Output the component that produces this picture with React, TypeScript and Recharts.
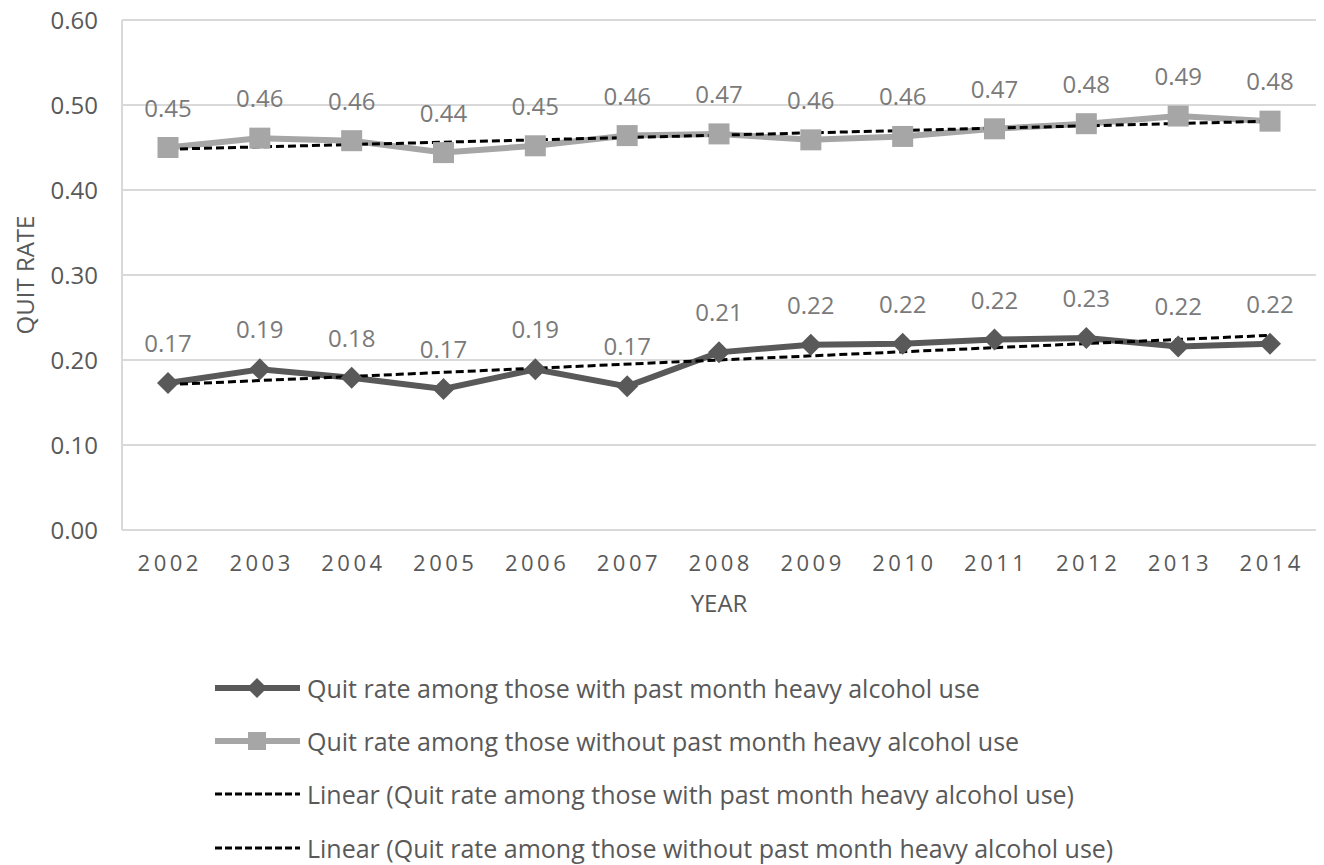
import React from 'react';
import { LineChart, Line, XAxis, YAxis, CartesianGrid, LabelList } from 'recharts';

const years = ['2002', '2003', '2004', '2005', '2006', '2007', '2008', '2009', '2010', '2011', '2012', '2013', '2014'];
const withHeavy = [0.173, 0.189, 0.179, 0.166, 0.189, 0.169, 0.209, 0.218, 0.219, 0.224, 0.226, 0.216, 0.219];
const withoutHeavy = [0.450, 0.461, 0.458, 0.444, 0.452, 0.464, 0.466, 0.459, 0.463, 0.472, 0.478, 0.487, 0.481];
const trendWith = [0.171, null, null, null, null, null, null, null, null, null, null, null, 0.229];
const trendWithout = [0.448, null, null, null, null, null, null, null, null, null, null, null, 0.481];
const yTicks = [0, 0.1, 0.2, 0.3, 0.4, 0.5, 0.6];

const seriesNames = [
  'Quit rate among those with past month heavy alcohol use',
  'Quit rate among those without past month heavy alcohol use',
  'Linear (Quit rate among those with past month heavy alcohol use)',
  'Linear (Quit rate among those without past month heavy alcohol use)',
];

const data = years.map((y, i) => ({
  year: y,
  withHeavy: withHeavy[i],
  withoutHeavy: withoutHeavy[i],
  trendWith: trendWith[i],
  trendWithout: trendWithout[i],
}));

const FONT = '"Open Sans", sans-serif';
const DARK = '#595959';
const LIGHT = '#a6a6a6';
const TEXT = '#595959';
const LABEL = '#7a7a7a';

const Diamond = (props: any) => {
  const { cx, cy, index } = props;
  if (cx == null || cy == null) return <g key={index} />;
  const r = 11;
  return (
    <polygon
      key={index}
      points={`${cx},${cy - r} ${cx + r},${cy} ${cx},${cy + r} ${cx - r},${cy}`}
      fill={DARK}
    />
  );
};

const Square = (props: any) => {
  const { cx, cy, index } = props;
  if (cx == null || cy == null) return <g key={index} />;
  const s = 21;
  return <rect key={index} x={cx - s / 2} y={cy - s / 2} width={s} height={s} fill={LIGHT} />;
};

const fmt = (v: any) => (typeof v === 'number' ? v.toFixed(2) : v);

const XTick = (props: any) => {
  const { x, y, payload } = props;
  return (
    <text x={x} y={y + 33} textAnchor="middle" fill={TEXT} fontSize={22} fontFamily={FONT} letterSpacing={3.5} dx={1.75}>
      {payload.value}
    </text>
  );
};

const LegendRow = ({ kind, label, top }: { kind: number; label: string; top: number }) => (
  <div style={{ position: 'absolute', left: 213, top: top - 16, height: 32, display: 'flex', alignItems: 'center' }}>
    <svg width={88} height={32} style={{ display: 'block' }}>
      {kind === 0 && (
        <>
          <line x1={2} y1={16} x2={87} y2={16} stroke={DARK} strokeWidth={6} />
          <polygon points="44,6 54,16 44,26 34,16" fill={DARK} />
        </>
      )}
      {kind === 1 && (
        <>
          <line x1={2} y1={16} x2={87} y2={16} stroke={LIGHT} strokeWidth={6} />
          <rect x={35} y={7} width={18} height={18} fill={LIGHT} />
        </>
      )}
      {kind >= 2 && <line x1={2} y1={16} x2={87} y2={16} stroke="#000" strokeWidth={3} strokeDasharray="7 3" />}
    </svg>
    <span style={{ fontFamily: FONT, fontSize: 25, color: TEXT, marginLeft: 6, whiteSpace: 'nowrap' }}>{label}</span>
  </div>
);

export default function App() {
  return (
    <div style={{ position: 'absolute', left: 0, top: 0, width: 1324, height: 865, background: '#fff' }}>
      <LineChart
        width={1324}
        height={865}
        data={data}
        margin={{ top: 20, right: 8, bottom: 245, left: 0 }}
      >
        <CartesianGrid vertical={false} stroke="#d9d9d9" strokeWidth={2} />
        <XAxis
          dataKey="year"
          height={90}
          padding={{ left: 46, right: 46 }}
          axisLine={{ stroke: '#d9d9d9', strokeWidth: 2 }}
          tickLine={false}
          tick={<XTick />}
          interval={0}
          label={{ value: 'YEAR', position: 'insideBottom', offset: 8, fill: TEXT, fontSize: 24, fontFamily: FONT }}
        />
        <YAxis
          width={122}
          domain={[0, 0.6]}
          ticks={yTicks}
          tickFormatter={(v: number) => v.toFixed(2)}
          axisLine={{ stroke: '#d9d9d9', strokeWidth: 2 }}
          tickLine={false}
          tickSize={0}
          tickMargin={24}
          tick={{ fill: TEXT, fontSize: 24, fontFamily: FONT }}
          label={{ value: 'QUIT RATE', angle: -90, position: 'insideLeft', offset: 25, fill: TEXT, fontSize: 24, fontFamily: FONT, style: { textAnchor: 'middle' } }}
        />
        <Line
          dataKey="withHeavy"
          name={seriesNames[0]}
          stroke={DARK}
          strokeWidth={6}
          dot={<Diamond />}
          activeDot={false}
          isAnimationActive={false}
        >
          <LabelList dataKey="withHeavy" position="top" offset={31} formatter={fmt} fill={LABEL} fontSize={24} fontFamily={FONT} />
        </Line>
        <Line
          dataKey="withoutHeavy"
          name={seriesNames[1]}
          stroke={LIGHT}
          strokeWidth={6}
          dot={<Square />}
          activeDot={false}
          isAnimationActive={false}
        >
          <LabelList dataKey="withoutHeavy" position="top" offset={31} formatter={fmt} fill={LABEL} fontSize={24} fontFamily={FONT} />
        </Line>
        <Line
          dataKey="trendWith"
          name={seriesNames[2]}
          stroke="#000"
          strokeWidth={3}
          strokeDasharray="8 4"
          dot={false}
          activeDot={false}
          connectNulls
          isAnimationActive={false}
        />
        <Line
          dataKey="trendWithout"
          name={seriesNames[3]}
          stroke="#000"
          strokeWidth={3}
          strokeDasharray="8 4"
          dot={false}
          activeDot={false}
          connectNulls
          isAnimationActive={false}
        />
      </LineChart>
      <LegendRow kind={0} label={seriesNames[0]} top={688} />
      <LegendRow kind={1} label={seriesNames[1]} top={741} />
      <LegendRow kind={2} label={seriesNames[2]} top={794} />
      <LegendRow kind={3} label={seriesNames[3]} top={848} />
    </div>
  );
}
